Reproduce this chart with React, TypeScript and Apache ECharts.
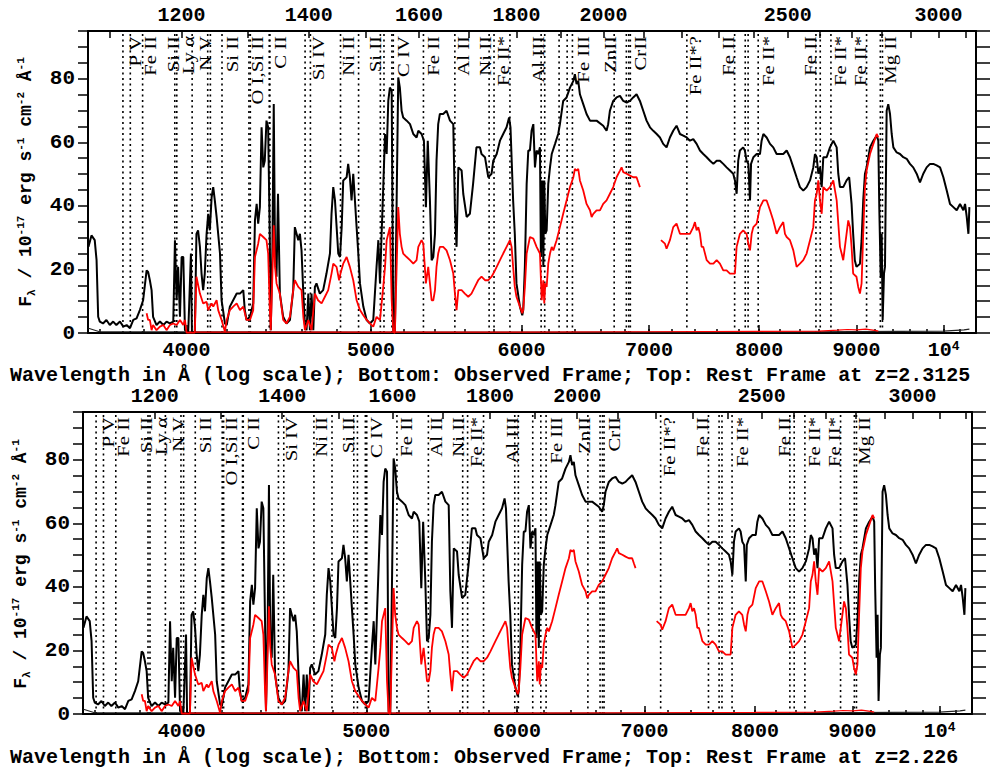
import React, { useEffect, useRef } from 'react';
import * as echarts from 'echarts';

// Observed-frame flux of the quasar spectrum, [wavelength Å, 1e-17 erg/s/cm²/Å]
const blackSpectrum: [number, number][] = [
  [3552,27.1],[3565,30.7],[3579,29.2],[3587,22.9],[3594,5.1],[3601,3.6],[3615,3.0],[3630,4.1],[3645,2.5],[3660,3.6],
  [3674,2.5],[3690,3.6],[3705,2.0],[3720,2.5],[3735,1.5],[3750,4.1],[3765,4.6],[3780,7.2],[3795,10.3],[3811,19.7],
  [3818,19.2],[3826,16.6],[3834,13.5],[3841,5.1],[3857,2.5],[3873,3.6],[3889,2.5],[3904,3.6],[3920,3.0],[3936,3.6],
  [3944,29.2],[3952,10.3],[3959,20.8],[3968,5.1],[3976,23.9],[3984,23.9],[3992,0.9],[4008,0.4],[4021,25],[4026,0],
  [4040,0.4],[4048,31.2],[4056,32.3],[4065,27.1],[4073,18.7],[4081,13.5],[4089,18.7],[4098,31.2],[4106,37.5],[4114,32.3],
  [4123,42.7],[4131,45.9],[4139,41.7],[4148,36.5],[4165,25],[4173,10.3],[4190,3.0],[4199,2.5],[4215,8.3],[4232,10.3],
  [4250,12.4],[4267,12.4],[4284,13.5],[4292,7.2],[4301,4.1],[4319,5.1],[4336,9.3],[4345,35.4],[4354,40.6],[4362,34.4],
  [4371,39.6],[4380,64.7],[4389,52.1],[4397,54.2],[4406,66.8],[4415,64.7],[4424,29.2],[4429,0.9],[4438,27.1],[4445,72],
  [4452,23.9],[4460,17.7],[4468,43.8],[4478,12.4],[4496,5.1],[4514,3.0],[4533,4.1],[4551,13.5],[4560,33.3],[4579,29.2],
  [4588,31.2],[4597,26],[4607,12.4],[4616,2.5],[4625,0.9],[4635,12.4],[4644,0.9],[4653,12.4],[4663,0.9],[4672,14.5],
  [4681,15.6],[4700,12.4],[4719,13.5],[4738,18.7],[4758,25],[4767,37.5],[4777,45.9],[4787,41.7],[4806,25],[4816,23.9],
  [4826,33.3],[4835,48],[4855,49],[4864,53.2],[4874,49],[4884,41.7],[4894,50.1],[4904,41.7],[4914,33.3],[4924,25],
  [4934,15.6],[4954,8.3],[4974,4.1],[4994,3.0],[5014,4.1],[5034,20.8],[5045,29.2],[5055,15.6],[5065,31.2],[5075,45.9],
  [5086,62.6],[5096,56.3],[5106,73],[5116,77.2],[5127,76.2],[5133,31],[5137,0.9],[5147,0],[5158,41.7],[5168,80.4],
  [5178,77.2],[5189,69.9],[5199,67.8],[5221,66.8],[5242,65.7],[5263,62.6],[5284,61.5],[5295,63.6],[5316,62.6],[5331,60.5],
  [5344,39.6],[5356,60.5],[5370,41.7],[5381,22.9],[5392,23.9],[5403,31.2],[5413,54.2],[5424,65.7],[5435,68.9],[5457,68.9],
  [5479,69.9],[5502,66.8],[5524,65.7],[5535,38.6],[5546,27.1],[5558,52.1],[5580,51.1],[5591,43.8],[5614,36.5],[5636,37.5],
  [5658,46.9],[5681,58.4],[5705,58.4],[5716,56.3],[5740,55.3],[5763,49],[5786,50.1],[5798,54.2],[5822,56.3],[5845,60.5],
  [5868,62.6],[5892,64.7],[5910,67.8],[5920,64.7],[5939,41.7],[5951,31.2],[5963,15.6],[5988,8.3],[6005,5.6],[6012,7.2],
  [6024,20.8],[6037,46.9],[6049,57.4],[6061,57.4],[6073,63.6],[6086,65.7],[6098,52.1],[6110,57.4],[6123,56.3],[6135,58.4],
  [6142,23.9],[6152,48],[6160,20.8],[6167,48],[6175,31.2],[6185,32.3],[6197,46.9],[6210,52.1],[6223,56.3],[6248,59.5],
  [6272,62.6],[6285,65.7],[6310,73],[6336,74.1],[6362,77.2],[6388,79.3],[6400,81.4],[6413,78.3],[6426,79.3],[6439,75.1],
  [6465,72],[6491,68.9],[6518,66.8],[6570,66.8],[6623,65.2],[6650,63.6],[6663,65.7],[6677,69.9],[6704,73],[6731,74.1],
  [6759,74.6],[6786,73],[6814,72.5],[6841,73],[6868,74.1],[6896,75.1],[6924,73],[6952,69.9],[6980,66.8],[7009,64.7],
  [7037,63.6],[7066,62.6],[7094,61.5],[7122,59.5],[7151,58.4],[7180,61.5],[7209,63.6],[7238,65.2],[7268,62.6],[7297,62.1],
  [7327,61.5],[7356,60.5],[7386,61],[7416,59.5],[7446,57.4],[7476,56.3],[7507,55.3],[7537,54.2],[7568,53.2],[7598,54.2],
  [7628,54.2],[7659,53.2],[7690,52.1],[7721,51.1],[7752,50.1],[7768,48],[7784,43.8],[7799,54.2],[7815,57.4],[7846,58.4],
  [7862,57.4],[7878,54.2],[7895,53.2],[7911,41.7],[7921,53.2],[7943,55.3],[7975,56.3],[8007,56.3],[8023,60.5],[8040,62.6],
  [8072,61.5],[8105,59.5],[8137,58.4],[8170,56.3],[8203,56.3],[8236,56.3],[8270,57.4],[8303,55.3],[8337,52.1],[8370,49],
  [8404,45.9],[8438,44.8],[8472,45.9],[8507,48],[8541,52.1],[8558,56.3],[8576,55.3],[8593,50.1],[8610,52.1],[8628,45.9],
  [8645,55.3],[8680,55.3],[8715,58.4],[8750,60.5],[8786,58.4],[8803,50.1],[8821,45.9],[8856,45.9],[8892,48],[8920,49],
  [8946,40.6],[8963,31.2],[8981,22.9],[8999,20.8],[9037,21.8],[9055,29.2],[9073,41.7],[9092,50.1],[9110,52.1],[9148,58.4],
  [9185,60.5],[9222,62.1],[9240,60.5],[9251,39.6],[9267,17.7],[9278,31.2],[9289,4.1],[9304,18.7],[9315,20.8],[9334,69.9],
  [9352,72],[9372,68.9],[9391,62.6],[9410,58.4],[9448,56.8],[9486,56.3],[9524,55.3],[9563,54.8],[9601,53.2],[9639,52.1],
  [9679,50.1],[9718,47.4],[9757,50.1],[9797,52.1],[9837,53.2],[9876,53.2],[9916,52.7],[9957,52.1],[9997,49],[10038,44.8],
  [10078,40.6],[10119,39.6],[10160,38.6],[10201,40.6],[10242,38.6],[10263,40.6],[10284,36.5],[10305,31.2],[10317,39.6],
];

// Second (red) spectrum, blue arm
const redSpectrumBlue: [number, number][] = [
  [3811,6.2],[3818,4.1],[3826,4.1],[3834,0.9],[3841,2.5],[3857,0.9],[3873,2.0],[3889,2.5],[3904,0.9],[3920,2.5],
  [3936,3.0],[3952,2.5],[3968,4.1],[3984,2.5],[3992,4.1],[4000,0.1],[4040,0.1],[4048,17.7],[4065,12.4],[4081,9.3],
  [4098,9.8],[4106,7.2],[4123,9.3],[4131,8.3],[4148,10.3],[4156,7.2],[4173,4.1],[4190,0.4],[4199,4.1],[4215,7.2],
  [4232,8.3],[4250,9.3],[4267,7.2],[4284,8.3],[4301,4.1],[4319,4.1],[4336,7.2],[4345,23.9],[4362,28.1],[4371,31.2],
  [4389,30.2],[4406,29.2],[4415,25],[4424,7.2],[4429,0.9],[4438,18.7],[4445,33.9],[4452,20.8],[4460,15.6],[4478,12.4],
  [4496,4.1],[4514,3.0],[4533,5.1],[4551,13.5],[4560,16.6],[4579,14.5],[4597,13.5],[4607,5.1],[4616,0.9],[4635,4.1],
  [4653,0.9],[4672,12.4],[4690,10.3],[4710,9.3],[4729,11.4],[4748,13.5],[4767,18.7],[4777,21.8],[4796,20.8],[4811,16.6],
  [4819,18.7],[4835,21.8],[4855,23.9],[4874,20.8],[4894,16.6],[4914,10.3],[4934,7.2],[4954,5.6],[4974,4.1],[4994,3.0],
  [5014,2.0],[5034,5.1],[5055,4.1],[5075,14.5],[5086,20.8],[5096,29.2],[5116,33.3],[5127,10.3],[5137,0.4],[5147,0],
  [5158,20.8],[5168,39.6],[5178,31.2],[5189,27.1],[5199,25],[5221,23.9],[5242,22.9],[5263,21.8],[5284,22.9],[5295,27.1],
  [5316,29.2],[5327,28.1],[5344,15.6],[5359,20.8],[5370,15.6],[5381,10.3],[5392,10.3],[5403,13.5],[5413,20.8],[5424,25],
  [5435,27.1],[5457,27.1],[5479,26],[5502,22.9],[5524,18.7],[5535,12.4],[5546,7.2],[5558,13.5],[5580,13.5],[5602,12.4],
  [5625,11.4],[5647,12.4],[5670,14.5],[5693,16.6],[5716,17.7],[5740,16.6],[5763,16.6],[5786,17.7],[5810,19.7],[5833,21.8],
  [5845,22.9],[5868,25],[5892,27.1],[5916,29.2],[5928,27.1],[5939,20.8],[5951,14.5],[5963,11.4],[5988,8.3],[6005,6.2],
  [6012,7.2],[6024,14.5],[6037,25],[6061,30.2],[6086,29.7],[6110,27.1],[6135,25],[6148,10.3],[6160,16.6],[6167,9.3],
  [6175,15.6],[6185,14.5],[6197,21.8],[6210,25],[6223,27.1],[6235,26],[6260,29.2],[6285,33.3],[6310,37.5],[6336,41.7],
  [6362,45.9],[6388,49],[6400,51.6],[6413,51.1],[6426,51.6],[6439,48],[6465,44.8],[6491,40.6],[6518,38.6],[6531,36.5],
  [6544,37.5],[6570,38.6],[6597,38.6],[6623,40.6],[6650,41.7],[6677,43.8],[6704,45.9],[6731,49],[6759,51.1],[6772,52.1],
  [6786,50.6],[6814,50.1],[6841,49.5],[6868,49],[6896,49],[6910,47.4],[6924,45.9],
];

// Second (red) spectrum, red arm
const redSpectrumRed: [number, number][] = [
  [7103,29.2],[7137,28.1],[7151,26.5],[7180,29.2],[7209,33.3],[7238,34.4],[7268,31.2],[7297,31.2],[7327,31.2],[7356,31.2],
  [7386,33.3],[7401,34.9],[7416,32.3],[7431,33.3],[7446,31.2],[7461,27.1],[7476,27.1],[7507,22.9],[7537,21.8],[7568,21.8],
  [7598,22.9],[7628,21.8],[7659,19.7],[7690,19.7],[7721,18.7],[7768,18.7],[7784,27.1],[7815,31.2],[7846,32.3],[7878,31.2],
  [7895,28.1],[7911,26],[7927,31.2],[7943,33.3],[7975,34.4],[8007,39.6],[8040,41.7],[8072,41.7],[8105,38.6],[8137,35.4],
  [8170,31.2],[8203,33.3],[8236,34.9],[8253,31.2],[8270,30.2],[8303,29.2],[8337,26],[8370,20.8],[8404,21.8],[8438,22.9],
  [8472,25],[8507,29.2],[8541,33.3],[8558,41.7],[8576,43.8],[8593,48],[8610,41.7],[8628,37.5],[8645,45.9],[8680,44.8],
  [8715,45.9],[8750,48],[8786,41.7],[8821,27.1],[8839,25],[8856,22.9],[8874,27.1],[8910,35.4],[8929,33.3],[8946,27.1],
  [8963,18.7],[8999,17.7],[9018,14.5],[9037,12.4],[9055,15.6],[9073,31.2],[9092,45.9],[9110,51.1],[9148,56.3],[9185,59.5],
  [9222,62.6],[9240,61.5],
];

// Flux uncertainties (near zero)
const redError: [number, number][] = [
  [4000,0.3],[5000,0.3],[6000,0.3],[7000,0.4],[8000,0.5],[8600,0.6],[8800,0.9],[8900,1.1],[9000,1.0],[9100,1.2],[9200,0.8],[9240,0.6],
];
const blackError: [number, number][] = [
  [3552,1.5],[3600,0.4],[5000,0.3],[8000,0.3],[10000,0.6],[10250,1.0],[10317,1.2],
];

// Absorption-line rest wavelengths (Å) marked by dotted lines
const lineRest: number[] = [
  1117.98, 1128.01, 1144.94, 1190.42, 1193.29, 1215.67, 1238.82, 1242.80, 1260.42, 1302.17,
  1304.37, 1334.53, 1335.71, 1393.76, 1402.77, 1454.84, 1487.0, 1526.71, 1533.43, 1548.20,
  1550.78, 1608.45, 1670.79, 1741.55, 1751.91, 1786.0, 1854.72, 1862.79, 1895.46, 1914.06,
  1926.30, 2026.14, 2056.25, 2062.23, 2066.16, 2212.5, 2344.21, 2374.46, 2382.77, 2412.0,
  2586.65, 2600.17, 2634.0, 2750.13, 2796.35, 2803.53,
];

// Line identifications and the rest wavelength each label sits at
const labelText: string[] = [
  'P V', 'Fe II', 'Si II', 'Ly α', 'N V', 'Si II', 'O I,Si II', 'C II', 'Si IV', 'Ni II',
  'Si II', 'C IV', 'Fe II', 'Al II', 'Ni II', 'Fe II*', 'Al III', 'Fe III', 'ZnII', 'CrII',
  'Fe II*?', 'Fe II', 'Fe II*', 'Fe II', 'Fe II*', 'Fe II*', 'Mg II',
];
const labelRest: number[] = [
  1134, 1155, 1188, 1210, 1235, 1276, 1316, 1352, 1416, 1468,
  1517, 1569, 1627, 1687, 1733, 1771, 1848, 1951, 2016, 2091,
  2235, 2326, 2441, 2568, 2663, 2729, 2829,
];

// Axis ticks
const obsMajorTicks: number[] = [4000, 5000, 6000, 7000, 8000, 9000, 10000];
const obsMinorTicks: number[] = [
  3600, 3800, 4000, 4200, 4400, 4600, 4800, 5000, 5200, 5400, 5600, 5800, 6000, 6200, 6400, 6600, 6800,
  7000, 7200, 7400, 7600, 7800, 8000, 8200, 8400, 8600, 8800, 9000, 9200, 9400, 9600, 9800, 10000, 10200, 10400,
];
const restTicks: number[] = [
  1100, 1200, 1300, 1400, 1500, 1600, 1700, 1800, 1900, 2000, 2100, 2200, 2300, 2400, 2500, 2600,
  2700, 2800, 2900, 3000, 3100, 3200,
];
const restLabels: number[] = [1200, 1400, 1600, 1800, 2000, 2500, 3000];

const redshifts: number[] = [2.3125, 2.226];

const WL_MIN = 3550;
const WL_MAX = 10400;
const Y_MAX = 95;

const MONO = '"Liberation Mono", "DejaVu Sans Mono", monospace';
const SERIF = '"Liberation Serif", "DejaVu Serif", serif';

const panelLayout = [
  { grid: { left: 88, top: 31, width: 888, height: 302 }, xTitle: 375, yTitleX: 26, yTitleY: 182 },
  { grid: { left: 83, top: 412, width: 889, height: 302 }, xTitle: 757, yTitleX: 21, yTitleY: 564 },
];

const lg = (v: number) => Math.log10(v);

function buildOption() {
  const grid: any[] = [];
  const xAxis: any[] = [];
  const yAxis: any[] = [];
  const series: any[] = [];
  const graphic: any[] = [];

  const axisLine = { show: true, onZero: false, lineStyle: { color: '#000', width: 2 } };
  const tickStyle = { color: '#000', width: 1.5 };
  const labelFont = { color: '#000', fontFamily: MONO, fontWeight: 'bold', fontSize: 20 };

  redshifts.forEach((z, i) => {
    const layout = panelLayout[i];
    const zf = 1 + z;
    grid.push({ ...layout.grid, containLabel: false });
    const xBase = xAxis.length;
    const yBase = yAxis.length;
    const xCommon = {
      gridIndex: i, type: 'value', min: lg(WL_MIN), max: lg(WL_MAX), splitLine: { show: false },
    };

    // bottom axis: observed wavelength, major ticks + labels
    xAxis.push({
      ...xCommon,
      position: 'bottom',
      axisLine,
      axisTick: { show: true, inside: true, length: 8, customValues: obsMajorTicks.map(lg), lineStyle: tickStyle },
      axisLabel: {
        show: true,
        customValues: obsMajorTicks.map(lg),
        margin: 7,
        ...labelFont,
        formatter: (v: number) => {
          const w = Math.round(Math.pow(10, v));
          return w === 10000 ? '{n|10}{sup|4}' : '{n|' + w + '}';
        },
        rich: {
          n: { ...labelFont },
          sup: { color: '#000', fontFamily: MONO, fontWeight: 'bold', fontSize: 13, verticalAlign: 'top' },
        },
      },
    });
    // bottom axis: minor ticks every 200 Å
    xAxis.push({
      ...xCommon,
      position: 'bottom',
      axisLine: { show: false, onZero: false },
      axisTick: { show: true, inside: true, length: 4, customValues: obsMinorTicks.map(lg), lineStyle: tickStyle },
      axisLabel: { show: false },
    });
    // top axis: rest-frame wavelength
    const restIn = restTicks.filter((r) => r * zf > WL_MIN && r * zf < WL_MAX);
    xAxis.push({
      ...xCommon,
      position: 'top',
      axisLine,
      axisTick: { show: true, inside: true, length: 7, customValues: restIn.map((r) => lg(r * zf)), lineStyle: tickStyle },
      axisLabel: {
        show: true,
        customValues: restLabels.map((r) => lg(r * zf)),
        margin: 6,
        ...labelFont,
        formatter: (v: number) => String(Math.round(Math.pow(10, v) / zf / 100) * 100),
      },
    });

    yAxis.push({
      gridIndex: i, type: 'value', position: 'left', min: 0, max: Y_MAX, interval: 5,
      axisLine,
      axisTick: { show: true, inside: false, length: 10, lineStyle: tickStyle },
      axisLabel: { margin: 13, ...labelFont, fontSize: 21, formatter: (v: number) => (v % 20 === 0 ? String(v) : '') },
      splitLine: { show: false },
    });
    yAxis.push({
      gridIndex: i, type: 'value', position: 'right', min: 0, max: Y_MAX, interval: 5,
      axisLine,
      axisTick: { show: true, inside: false, length: 14, lineStyle: tickStyle },
      axisLabel: { show: false },
      splitLine: { show: false },
    });

    const axes = { xAxisIndex: xBase, yAxisIndex: yBase };

    // dotted line markers
    series.push({
      type: 'custom', ...axes, silent: true, clip: true, z: 2,
      data: lineRest.map((r) => [lg(r * zf), 0]),
      renderItem: (_p: any, api: any) => {
        const x = api.value(0);
        const a = api.coord([x, 0]);
        const b = api.coord([x, Y_MAX]);
        return {
          type: 'line',
          shape: { x1: a[0], y1: a[1], x2: b[0], y2: b[1] },
          style: { stroke: '#000', lineWidth: 1.6, lineDash: [2, 3.5] },
        };
      },
    });

    // line identifications, set vertically and reading upward
    series.push({
      type: 'custom', ...axes, silent: true, clip: false, z: 5,
      data: labelRest.map((r) => [lg(r * zf), Y_MAX]),
      renderItem: (p: any, api: any) => {
        const pt = api.coord([api.value(0), Y_MAX]);
        return {
          type: 'text',
          x: pt[0],
          y: pt[1] + 5,
          rotation: Math.PI / 2,
          scaleX: 1.22,
          style: {
            text: labelText[p.dataIndex],
            align: 'right',
            verticalAlign: 'middle',
            fill: '#000',
            font: '17px ' + SERIF,
          },
        };
      },
    });

    const lineSeries = (data: [number, number][], color: string, width: number, zz: number) => ({
      type: 'line', ...axes, silent: true, clip: true, z: zz,
      showSymbol: false, symbol: 'none', animation: false,
      data: data.map(([w, f]) => [lg(w), f]),
      lineStyle: { color, width },
    });

    series.push(lineSeries(blackError, '#222', 1.2, 3));
    series.push(lineSeries(redError, '#ff0000', 1.2, 3));
    series.push(lineSeries(blackSpectrum, '#000', 2, 3));
    series.push(lineSeries(redSpectrumBlue, '#ff0000', 1.8, 4));
    series.push(lineSeries(redSpectrumRed, '#ff0000', 1.8, 4));

    graphic.push({
      type: 'text',
      x: 10,
      y: layout.xTitle,
      style: {
        text: 'Wavelength in Å (log scale); Bottom: Observed Frame; Top: Rest Frame at z=' + z,
        font: 'bold 20px ' + MONO,
        fill: '#000',
        align: 'left',
        verticalAlign: 'middle',
      },
    });
    graphic.push({
      type: 'text',
      x: layout.yTitleX,
      y: layout.yTitleY,
      rotation: Math.PI / 2,
      style: {
        text: '{n|F}{sub|λ}{n| / 10}{sup|-17}{n| erg s}{sup|-1}{n| cm}{sup|-2}{n| Å}{sup|-1}',
        align: 'center',
        verticalAlign: 'middle',
        fill: '#000',
        rich: {
          n: { fontFamily: MONO, fontWeight: 'bold', fontSize: 18, lineHeight: 22, fill: '#000', verticalAlign: 'middle' },
          sub: { fontFamily: MONO, fontWeight: 'bold', fontSize: 11, lineHeight: 22, fill: '#000', verticalAlign: 'bottom' },
          sup: { fontFamily: MONO, fontWeight: 'bold', fontSize: 11, lineHeight: 22, fill: '#000', verticalAlign: 'top' },
        },
      },
    });
  });

  return {
    animation: false,
    backgroundColor: '#fff',
    grid,
    xAxis,
    yAxis,
    series,
    graphic,
  };
}

export default function App() {
  const ref = useRef<HTMLDivElement>(null);
  useEffect(() => {
    if (!ref.current) return;
    const chart = echarts.init(ref.current, null, { renderer: 'svg' });
    chart.setOption(buildOption() as any);
    return () => chart.dispose();
  }, []);
  return (
    <div
      ref={ref}
      style={{ position: 'absolute', left: 0, top: 0, width: 994, height: 774, background: '#fff' }}
    />
  );
}
